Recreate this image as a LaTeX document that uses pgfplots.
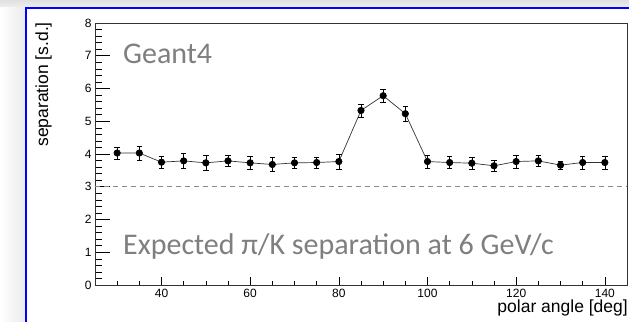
\documentclass[border=0pt]{standalone}
\usepackage{pgfplots}
\pgfplotsset{compat=1.18}
\usepackage{fontspec}
\setmainfont{Liberation Sans}
\newfontfamily\calibri{Carlito}
\definecolor{annot}{RGB}{127,127,127}
\definecolor{dashc}{RGB}{136,136,136}
\definecolor{frameblue}{RGB}{0,0,255}
\pgfplotstableread{
x y e
30 4.03 0.18
35 4.03 0.22
40 3.75 0.18
45 3.79 0.23
50 3.73 0.22
55 3.79 0.18
60 3.73 0.20
65 3.68 0.21
70 3.73 0.18
75 3.74 0.17
80 3.77 0.23
85 5.33 0.20
90 5.78 0.20
95 5.23 0.22
100 3.77 0.20
105 3.74 0.18
110 3.72 0.18
115 3.64 0.18
120 3.77 0.20
125 3.79 0.18
130 3.66 0.13
135 3.74 0.20
140 3.74 0.20
}\sepdata
\begin{document}
\begin{tikzpicture}
\useasboundingbox (0,0) rectangle (629bp,322bp);
\fill[white] (0,0) rectangle (629bp,322bp);
\shade[top color=black!12, bottom color=black!6] (0,314bp) rectangle (629bp,322bp);
\shade[left color=white, right color=black!8] (0,0) rectangle (25bp,314bp);
\draw[frameblue, line width=2.2bp] (26bp,0) -- (26bp,314bp) -- (629bp,314bp);
\begin{axis}[
  at={(95bp,37bp)}, anchor=south west,
  scale only axis, width=532bp, height=262bp,
  xmin=25, xmax=145, ymin=0, ymax=8,
  xtick={20,40,...,160}, ytick={0,1,...,8},
  minor x tick num=3, minor y tick num=4,
  tick pos=left, tick align=inside,
  xtick style={/pgfplots/major tick length=8bp,/pgfplots/minor tick length=4bp, black, line width=0.6bp},
  ytick style={/pgfplots/major tick length=15bp,/pgfplots/minor tick length=7bp, black, line width=0.6bp},
  axis line style={black!80, line width=0.8bp},
  /pgf/number format/assume math mode=true,
  ticklabel style={font=\fontsize{12bp}{14bp}\selectfont},
  xticklabel style={yshift=-1bp},
  yticklabel style={xshift=0bp},
  clip=false,
]
\addplot[dashc, line width=1.4bp, dash pattern=on 5bp off 4bp] coordinates {(25,3) (145,3)};
\addplot[black!80, line width=0.7bp, mark=*, mark size=3.2bp,
  mark options={black, solid},
  error bars/.cd, y dir=both, y explicit,
  error bar style={black, line width=0.6bp},
  error mark options={rotate=90, mark size=2.8bp, black, line width=0.6bp}]
  table[x=x, y=y, y error=e] {\sepdata};
\end{axis}
\node[annot, anchor=base west, inner sep=0, font=\calibri\fontsize{30bp}{36bp}\selectfont] at (123bp,258bp) {Geant4};
\node[annot, anchor=base west, inner sep=0, font=\calibri\fontsize{30bp}{36bp}\selectfont] at (123bp,67bp) {Expected π/K separation at 6 GeV/c};
\node[rotate=90, anchor=east, inner sep=0, font=\fontsize{17.5bp}{20bp}\selectfont] at (43.5bp,300bp) {separation [s.d.]};
\node[anchor=base east, inner sep=0, font=\fontsize{17.5bp}{20bp}\selectfont] at (628bp,9.3bp) {polar angle [deg]};
\end{tikzpicture}
\end{document}
